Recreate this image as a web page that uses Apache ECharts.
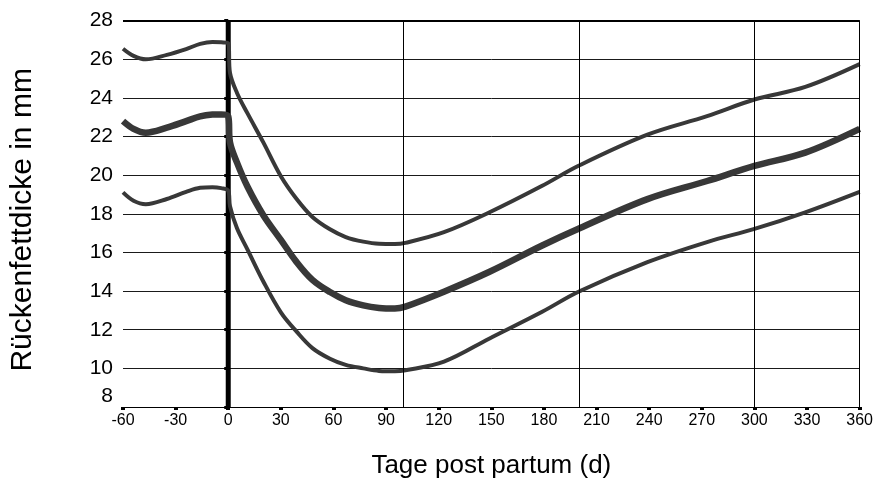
<!DOCTYPE html>
<html>
<head>
<meta charset="utf-8">
<script src="https://cdn.jsdelivr.net/npm/echarts@6/dist/echarts.min.js"></script>
<style>
html,body{margin:0;padding:0;background:#fff;}
#chart{width:876px;height:484px;}
</style>
</head>
<body>
<div id="chart"></div>
<script>
// Days (x values) shared by the three curves
const days = [-60,-54,-47,-35,-24,-16,-9,-4,0,1,5,11,20,30,39,48,58,67,77,86,95,101,123,149,179,200,239,273,300,329,360];
// Upper curve
const upperCurve = [26.55,26.18,26.0,26.23,26.53,26.8,26.9,26.88,26.83,25.3,24.26,23.2,21.7,19.95,18.77,17.84,17.2,16.8,16.56,16.45,16.44,16.5,17.05,18.08,19.45,20.5,22.1,23.06,23.92,24.57,25.75];
// Middle curve
const middleCurve = [22.8,22.4,22.2,22.46,22.8,23.05,23.14,23.15,23.05,21.7,20.65,19.4,17.93,16.65,15.5,14.58,13.95,13.53,13.26,13.13,13.1,13.2,13.97,15.0,16.36,17.24,18.76,19.7,20.48,21.17,22.4];
// Lower curve
const lowerCurve = [19.11,18.68,18.5,18.77,19.14,19.35,19.38,19.33,19.2,18.4,17.25,16.15,14.5,12.9,11.9,11.05,10.5,10.18,10.0,9.87,9.85,9.9,10.35,11.55,12.93,13.98,15.5,16.54,17.22,18.08,19.14];
// Vertical reference line at calving (day 0)
const calvingDay = 0;
// Vertical grid days
const vGridDays = [100, 200, 300, 360];
// Axis ranges
const xMin = -60, xMax = 360, xStep = 30;
const yMin = 8, yMax = 28, yStep = 2;
const xTitle = 'Tage post partum (d)';
const yTitle = 'Rückenfettdicke in mm';

const pair = (arr) => days.map((d, i) => [d, arr[i]]);
const font = 'Arial, "Liberation Sans", sans-serif';
const curveColor = '#383838';

const chart = echarts.init(document.getElementById('chart'), null, {renderer: 'canvas'});
chart.setOption({
  animation: false,
  backgroundColor: '#fff',
  grid: {left: 122.7, right: 7.7, top: 20.7, bottom: 75, containLabel: false},
  xAxis: {
    type: 'value', min: xMin, max: xMax, interval: xStep,
    name: xTitle, nameLocation: 'middle', nameGap: 46,
    nameTextStyle: {fontSize: 26, color: '#000', fontFamily: font},
    axisLine: {show: true, onZero: false, lineStyle: {color: '#000', width: 1}},
    axisTick: {show: true, length: 3, lineStyle: {color: '#000', width: 4}},
    axisLabel: {fontSize: 16, color: '#000', fontFamily: font, margin: 6},
    splitLine: {show: false}
  },
  yAxis: {
    type: 'value', min: yMin, max: yMax, interval: yStep,
    name: yTitle, nameLocation: 'middle', nameGap: 85, nameRotate: 90,
    nameTextStyle: {fontSize: 30, color: '#000', fontFamily: font, padding: [0, 12, 0, 0]},
    axisLine: {show: true, lineStyle: {color: '#000', width: 1}},
    axisTick: {show: true, length: 4, lineStyle: {color: '#000', width: 3}},
    axisLabel: {
      fontSize: 21, color: '#000', fontFamily: font, margin: 10,
      formatter: (v) => v === yMin ? '{low|' + v + '}' : '' + v,
      rich: {low: {fontSize: 21, color: '#000', fontFamily: font, padding: [0, 0, 22, 0]}}
    },
    splitLine: {show: true, lineStyle: {color: '#1a1a1a', width: 1}}
  },
  series: [
    {
      type: 'line', z: 1, silent: true, showSymbol: false,
      data: [[calvingDay, yMin], [calvingDay, yMax]],
      lineStyle: {color: '#000', width: 5},
      markLine: {
        silent: true, symbol: ['none', 'none'], label: {show: false},
        data: vGridDays.map(d => ({xAxis: d, lineStyle: {color: '#000', width: 1, type: 'solid'}}))
          .concat([{yAxis: yMax, lineStyle: {color: '#000', width: 2, type: 'solid'}}])
      }
    },
    {
      type: 'line', z: 3, showSymbol: false, smooth: 0.35,
      data: pair(upperCurve), lineStyle: {color: curveColor, width: 4}
    },
    {
      type: 'line', z: 3, showSymbol: false, smooth: 0.35,
      data: pair(middleCurve), lineStyle: {color: curveColor, width: 6.5}
    },
    {
      type: 'line', z: 3, showSymbol: false, smooth: 0.35,
      data: pair(lowerCurve), lineStyle: {color: curveColor, width: 4}
    }
  ]
});
</script>
</body>
</html>
